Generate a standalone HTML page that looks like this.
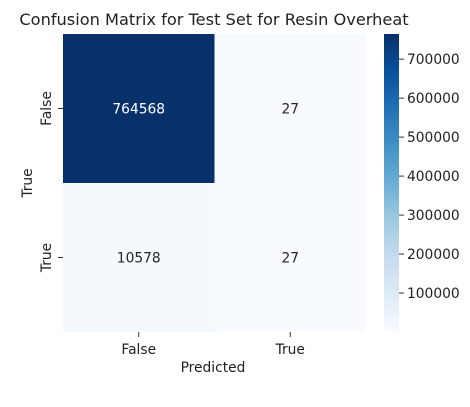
<!DOCTYPE html>
<html><head><meta charset="utf-8"><style>
body{margin:0;background:#fff;}
svg{display:block;font-family:"DejaVu Sans","Liberation Sans",sans-serif;}
</style></head><body>
<svg id="chart" width="470" height="407">
<defs><linearGradient id="blues" x1="0" y1="1" x2="0" y2="0">
<stop offset="0" stop-color="#f7fbff"/><stop offset="0.125" stop-color="#deebf7"/><stop offset="0.25" stop-color="#c6dbef"/><stop offset="0.375" stop-color="#9ecae1"/><stop offset="0.5" stop-color="#6baed6"/><stop offset="0.625" stop-color="#4292c6"/><stop offset="0.75" stop-color="#2171b5"/><stop offset="0.875" stop-color="#08519c"/><stop offset="1" stop-color="#08306b"/>
</linearGradient></defs>
<text x="214" y="25" text-anchor="middle" font-size="16.2" fill="#222">Confusion Matrix for Test Set for Resin Overheat</text>
<g id="cells"></g>
<text x="213" y="372" text-anchor="middle" font-size="13.8" fill="#222">Predicted</text>
<text transform="translate(32,183) rotate(-90)" text-anchor="middle" font-size="13.8" fill="#222">True</text>
<rect x="384" y="34" width="15" height="298" fill="url(#blues)"/>
<g id="cbticks"></g>
</svg>
<script>
const xLabels=["False","True"];
const yLabels=["False","True"];
const values=[[764568,27],[10578,27]];
const cbTicks=[100000,200000,300000,400000,500000,600000,700000];
const NS="http://www.w3.org/2000/svg";
const X0=63,Y0=34,CW=151.5,CH=149;
const vmin=27,vmax=764568;
const stops=["#f7fbff","#deebf7","#c6dbef","#9ecae1","#6baed6","#4292c6","#2171b5","#08519c","#08306b"];
function hex(h){return [1,3,5].map(i=>parseInt(h.substr(i,2),16));}
function color(v){let t=Math.max(0,Math.min(1,(v-vmin)/(vmax-vmin)))*8;let i=Math.min(7,Math.floor(t)),f=t-i;let a=hex(stops[i]),b=hex(stops[i+1]);return "rgb("+a.map((c,k)=>Math.round(c+(b[k]-c)*f)).join(",")+")";}
function mk(tag,attrs,parent,txt){const e=document.createElementNS(NS,tag);for(const k in attrs)e.setAttribute(k,attrs[k]);if(txt!==undefined)e.textContent=txt;parent.appendChild(e);return e;}
const g=document.getElementById("cells");
values.forEach((row,r)=>row.forEach((v,c)=>{
 const rect=mk("rect",{x:X0+c*CW,y:Y0+r*CH,width:CW,height:CH,fill:color(v)},g);
 
 
 const t=mk("text",{x:X0+c*CW+CW/2,y:Y0+r*CH+CH/2+5,"text-anchor":"middle","font-size":"13.8",fill:(v-vmin)/(vmax-vmin)>0.5?"#fff":"#262626"},g,String(v));
 
 
}));
xLabels.forEach((l,i)=>{
 const x=X0+i*CW+CW/2;
 const tk=mk("line",{x1:x,x2:x,y1:332,y2:337,stroke:"#333"},g);
 
 
 const t=mk("text",{x:x,y:354,"text-anchor":"middle","font-size":"13.8",fill:"#222"},g,l);
 
 
});
yLabels.forEach((l,i)=>{
 const y=Y0+i*CH+CH/2;
 const tk=mk("line",{x1:58,x2:63,y1:y,y2:y,stroke:"#333"},g);
 
 
 const t=mk("text",{transform:"translate(51,"+y+") rotate(-90)","text-anchor":"middle","font-size":"13.8",fill:"#222"},g,l);
 
 
});
const cb=document.getElementById("cbticks");
function cy(v){return 332-(v-vmin)/(vmax-vmin)*298;}
cbTicks.forEach(v=>{
 const y=cy(v);
 const tk=mk("line",{x1:399,x2:404,y1:y,y2:y,stroke:"#333"},cb);
 
 
 const t=mk("text",{x:407,y:y+5,"font-size":"13.8",fill:"#222"},cb,String(v));
 
 
});
</script>
</body></html>
